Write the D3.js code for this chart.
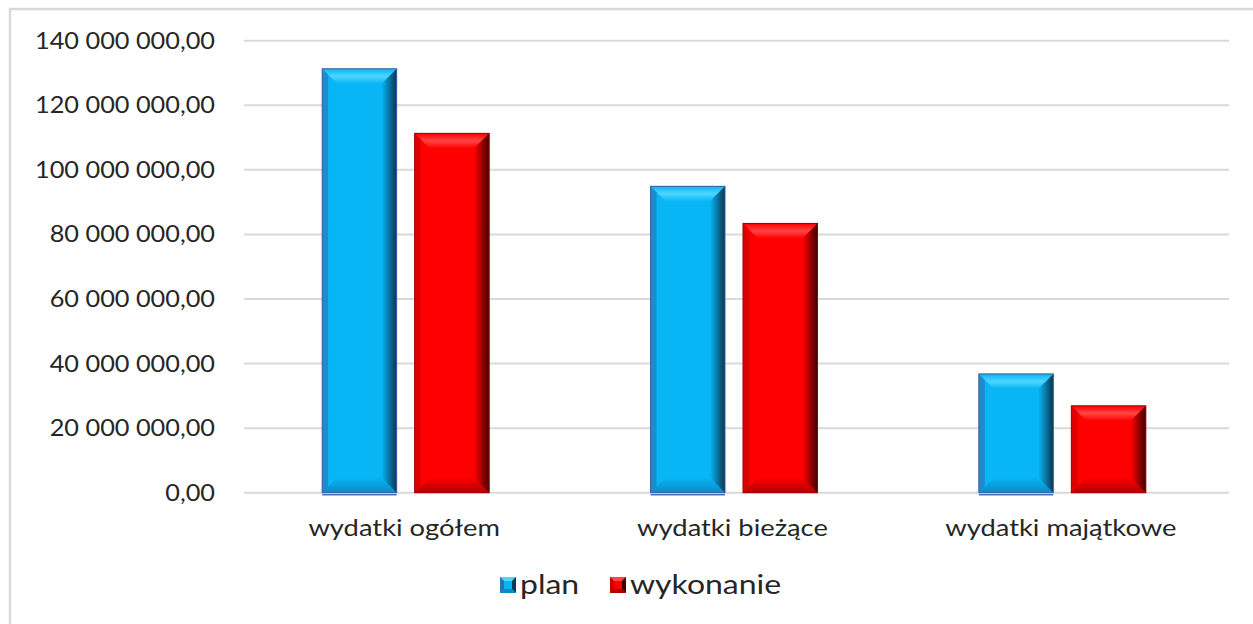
<!DOCTYPE html>
<meta charset="utf-8">
<style>
body { margin: 0; background: #fff; }
text { font-family: Lato, "Open Sans", sans-serif; fill: #262626; }
.grid line { stroke: #d9d9d9; stroke-width: 2; }
</style>
<script src="https://d3js.org/d3.v7.min.js"></script>
<body>
<div id="chart"></div>
<script>
// data
var categories = ["wydatki ogółem", "wydatki bieżące", "wydatki majątkowe"];
var seriesNames = ["plan", "wykonanie"];
var planValues = [131300000, 94900000, 36800000];
var wykonanieValues = [111300000, 83400000, 26900000];
var yTicks = [0, 20000000, 40000000, 60000000, 80000000, 100000000, 120000000, 140000000];

var W = 1253, H = 624;
var margin = {top: 40.7, left: 244, right: 1253 - 1229, bottom: 624 - 492.7};
var width = W - margin.left - margin.right,
    height = H - margin.top - margin.bottom;

var svg = d3.select("#chart").append("svg")
    .attr("width", W).attr("height", H);

// chart frame
svg.append("rect")
    .attr("x", 10).attr("y", 9).attr("width", W).attr("height", H)
    .attr("fill", "none").attr("stroke", "#d9d9d9").attr("stroke-width", 2.5);

var g = svg.append("g")
    .attr("transform", "translate(" + margin.left + "," + margin.top + ")");

var groupW = 167;
var x0 = d3.scaleBand().domain(categories).range([0, width]).paddingInner(0).paddingOuter(0);
var x1 = d3.scaleBand().domain(seriesNames).range([0, groupW]).paddingInner(18 / 92.5);
var y = d3.scaleLinear().domain([0, 140000000]).range([height, 0]);

function fmt(v) {
    var s = d3.format(",.2f")(v);
    return s.replace(/,/g, " ").replace(".", ",");
}

// gridlines
g.append("g").attr("class", "grid")
    .selectAll("line").data(yTicks).enter().append("line")
    .attr("x1", 0).attr("x2", width)
    .attr("y1", function(d) { return y(d); })
    .attr("y2", function(d) { return y(d); });

// y labels (text slightly stretched, like the original)
g.append("g").selectAll("g").data(yTicks).enter().append("g")
    .attr("transform", function(d) { return "translate(-29," + y(d) + ") scale(1.1,1)"; })
    .append("text")
    .attr("dy", "0.35em")
    .attr("text-anchor", "end")
    .style("font-size", "23px")
    .text(fmt);

// x labels
g.append("g").selectAll("g").data(categories).enter().append("g")
    .attr("transform", function(d) {
        return "translate(" + (x0(d) + x0.bandwidth() / 2 - 4) + "," + (height + 43) + ") scale(1.19,1)";
    })
    .append("text")
    .attr("text-anchor", "middle")
    .style("font-size", "23px")
    .text(function(d) { return d; });

var palette = {
    plan: {face: "#08b5f5", top: "#4fd6ff", left: "#2f6fb0", right: "#0b3550", bottom: "#0a8cc4", edge: "#3f5fa0"},
    wykonanie: {face: "#ff0000", top: "#ff4545", left: "#c80000", right: "#400000", bottom: "#b00000", edge: "#a00000"}
};

var defs = svg.append("defs");
seriesNames.forEach(function(s) {
    var c = palette[s];
    var gr = defs.append("linearGradient").attr("id", "right-" + s)
        .attr("x1", "0").attr("x2", "1").attr("y1", "0").attr("y2", "0");
    gr.append("stop").attr("offset", "0").attr("stop-color", c.face);
    gr.append("stop").attr("offset", "1").attr("stop-color", c.right);
    var gt = defs.append("linearGradient").attr("id", "top-" + s)
        .attr("x1", "0").attr("x2", "0").attr("y1", "0").attr("y2", "1");
    gt.append("stop").attr("offset", "0").attr("stop-color", c.face);
    gt.append("stop").attr("offset", "0.5").attr("stop-color", c.top);
    gt.append("stop").attr("offset", "1").attr("stop-color", c.face);
    var gb = defs.append("linearGradient").attr("id", "bot-" + s)
        .attr("x1", "0").attr("x2", "0").attr("y1", "0").attr("y2", "1");
    gb.append("stop").attr("offset", "0").attr("stop-color", c.face);
    gb.append("stop").attr("offset", "1").attr("stop-color", c.bottom);
});

var rows = [];
categories.forEach(function(c, i) {
    rows.push({cat: c, s: "plan", v: planValues[i]});
    rows.push({cat: c, s: "wykonanie", v: wykonanieValues[i]});
});

var bevel = 15;
var bars = g.append("g").selectAll("g.bar").data(rows).enter().append("g")
    .attr("class", "bar")
    .attr("transform", function(d) {
        var off = x0(d.cat) + (x0.bandwidth() - groupW) / 2 - 2.5;
        return "translate(" + (off + x1(d.s)) + "," + y(d.v) + ")";
    });

bars.each(function(d) {
    var sel = d3.select(this);
    var w = x1.bandwidth(), h = y(0) - y(d.v), b = Math.min(bevel, h / 2);
    var c = palette[d.s];
    sel.append("rect").attr("width", w).attr("height", h).attr("fill", c.face);
    // top bevel
    sel.append("polygon").attr("points", [[0,0],[w,0],[w-b,b],[b,b]].join(" "))
        .attr("fill", "url(#top-" + d.s + ")");
    // bottom bevel
    sel.append("polygon").attr("points", [[0,h],[w,h],[w-b,h-b],[b,h-b]].join(" "))
        .attr("fill", "url(#bot-" + d.s + ")");
    // right bevel
    sel.append("polygon").attr("points", [[w,0],[w,h],[w-b,h-b],[w-b,b]].join(" "))
        .attr("fill", "url(#right-" + d.s + ")");
    // left bevel
    sel.append("polygon").attr("points", [[0,0],[b*0.4,b*0.4],[b*0.4,h-b*0.4],[0,h]].join(" "))
        .attr("fill", c.left).attr("opacity", 0.6);
    sel.append("rect").attr("width", w).attr("height", h)
        .attr("fill", "none").attr("stroke", c.edge).attr("stroke-width", 1);
    if (d.s === "plan") {
        sel.append("line").attr("x1", 0).attr("x2", w).attr("y1", h + 2).attr("y2", h + 2)
            .attr("stroke", "#4a6fb5").attr("stroke-width", 1.5);
    }
});

// legend
var legend = svg.append("g").attr("transform", "translate(500,577)");
var lx = [0, 110];
seriesNames.forEach(function(s, i) {
    var c = palette[s];
    var lg = legend.append("g").attr("transform", "translate(" + lx[i] + ",0)");
    var w = 16, b = 4;
    lg.append("rect").attr("width", w).attr("height", w).attr("fill", c.face);
    lg.append("polygon").attr("points", [[0,0],[w,0],[w-b,b],[b,b]].join(" ")).attr("fill", c.top);
    lg.append("polygon").attr("points", [[w,0],[w,w],[w-b,w-b],[w-b,b]].join(" ")).attr("fill", c.right);
    lg.append("polygon").attr("points", [[0,w],[w,w],[w-b,w-b],[b,w-b]].join(" ")).attr("fill", c.bottom);
    lg.append("polygon").attr("points", [[0,0],[b,b],[b,w-b],[0,w]].join(" ")).attr("fill", c.left);
    lg.append("g").attr("transform", "translate(" + (w + 4) + "," + (w / 2) + ") scale(1.23,1)")
        .append("text").attr("dy", "0.35em")
        .style("font-size", "26px").text(s);
});
</script>
</body>
